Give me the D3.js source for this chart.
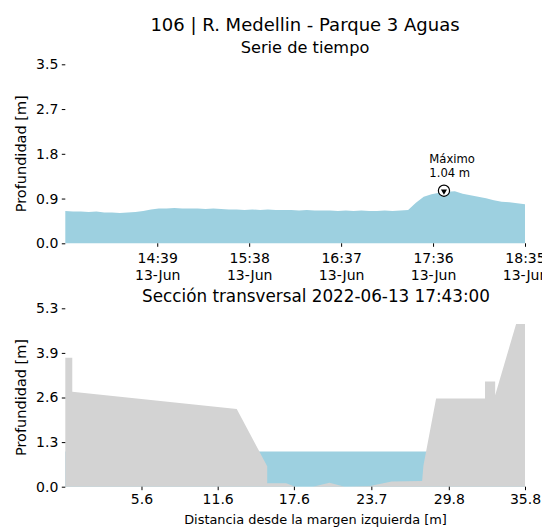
<!DOCTYPE html>
<html>
<head>
<meta charset="utf-8">
<script src="https://cdn.jsdelivr.net/npm/d3@7"></script>
<style>
  body { margin: 0; background: #fff; }
  svg { display: block; font-family: 'DejaVu Sans', sans-serif; }
</style>
</head>
<body>
<div id="chart"></div>
<script>
// serie de tiempo (profundidad cada 5 min)
const times = ['13:40', '13:45', '13:50', '13:55', '14:00', '14:05', '14:10', '14:15', '14:20', '14:25',
  '14:30', '14:35', '14:40', '14:45', '14:50', '14:55', '15:00', '15:05', '15:10', '15:15',
  '15:20', '15:25', '15:30', '15:35', '15:40', '15:45', '15:50', '15:55', '16:00', '16:05',
  '16:10', '16:15', '16:20', '16:25', '16:30', '16:35', '16:40', '16:45', '16:50', '16:55',
  '17:00', '17:05', '17:10', '17:15', '17:20', '17:25', '17:30', '17:35', '17:40', '17:43',
  '17:45', '17:50', '17:55', '18:00', '18:05', '18:10', '18:15', '18:20', '18:25', '18:30', '18:35']
const depth = [0.64, 0.63, 0.63, 0.62, 0.63, 0.61, 0.61, 0.60, 0.61, 0.62,
  0.64, 0.67, 0.69, 0.69, 0.70, 0.69, 0.69, 0.69, 0.68, 0.69,
  0.68, 0.67, 0.67, 0.66, 0.67, 0.66, 0.67, 0.66, 0.66, 0.66,
  0.65, 0.66, 0.65, 0.65, 0.65, 0.64, 0.65, 0.64, 0.65, 0.64,
  0.64, 0.65, 0.64, 0.65, 0.66, 0.80, 0.92, 0.97, 1.00, 1.04,
  1.02, 1.03, 0.98, 0.95, 0.92, 0.89, 0.85, 0.82, 0.81, 0.79, 0.77]
const maxTime = '17:43'
const maxDepth = 1.04
const topYTickLabels = ['0.0', '0.9', '1.8', '2.7', '3.5']
const topXTicks = ['14:39', '15:38', '16:37', '17:36', '18:35']

// seccion transversal
const sectionX = [-0.4, 0.15, 0.15, 13.1, 15.5, 15.5, 17.0, 17.7, 19.1, 20.4, 21.6, 23.6, 25.3, 27.7,
  27.8, 28.8, 32.65, 32.65, 33.45, 33.45, 35.1, 35.8]
const sectionZ = [3.8, 3.8, 2.8, 2.29, 0.6, 0.1, 0.1, 0.0, 0.0, 0.12, 0.0, 0.02, 0.15, 0.17,
  0.62, 2.6, 2.6, 3.1, 3.1, 2.7, 4.8, 4.8]
const waterLevel = 1.04
const bottomYTickLabels = ['0.0', '1.3', '2.6', '3.9', '5.3']
const bottomXTicks = [5.6, 11.6, 17.6, 23.7, 29.8, 35.8]

const width = 542
const height = 529
const blue = '#9dd0e0'
const grey = '#d3d3d3'

const svg = d3
  .select('#chart')
  .append('svg')
  .attr('width', width)
  .attr('height', height)

const parse = d3.timeParse('%Y-%m-%d %H:%M')
const toDate = t => parse('2022-06-13 ' + t)

const styleText = g =>
  g.selectAll('text').attr('font-size', 14).attr('fill', '#000').attr('font-family', 'DejaVu Sans')

// ---------- top chart ----------
const topBox = { left: 65.3, right: 525, y0: 243.3, y1: 64.3 }
const topYMax = 3.54

const xTime = d3
  .scaleTime()
  .domain([toDate(times[0]), toDate(times[times.length - 1])])
  .range([topBox.left, topBox.right])
const yTop = d3.scaleLinear().domain([0, topYMax]).range([topBox.y0, topBox.y1])

const series = times.map((t, i) => ({ date: toDate(t), value: depth[i] }))

const area = d3
  .area()
  .x(d => xTime(d.date))
  .y0(yTop(0))
  .y1(d => yTop(d.value))

svg.append('path').datum(series).attr('d', area).attr('fill', blue)

const yAxisTop = d3
  .axisLeft(yTop)
  .tickValues(topYTickLabels.map((l, i) => (i * topYMax) / 4))
  .tickFormat((d, i) => topYTickLabels[i])
  .tickSize(3.5)
  .tickPadding(3.5)

svg
  .append('g')
  .attr('transform', `translate(${topBox.left},0)`)
  .call(yAxisTop)
  .call(g => g.select('.domain').remove())
  .call(styleText)

const xAxisTop = d3
  .axisBottom(xTime)
  .tickValues(topXTicks.map(toDate))
  .tickFormat('')
  .tickSize(3.5)

const gxTop = svg
  .append('g')
  .attr('transform', `translate(0,${topBox.y0})`)
  .call(xAxisTop)
  .call(g => g.select('.domain').remove())

gxTop.selectAll('.tick text').remove()
gxTop
  .selectAll('.tick')
  .append('text')
  .attr('text-anchor', 'middle')
  .attr('font-size', 14)
  .attr('font-family', 'DejaVu Sans')
  .attr('fill', '#000')
  .each(function(d) {
    const t = d3.select(this)
    t.append('tspan').attr('x', 0).attr('y', 19.5).text(d3.timeFormat('%H:%M')(d))
    t.append('tspan').attr('x', 0).attr('y', 36.5).text(d3.timeFormat('%d-%b')(d))
  })

// maximo marker
const mx = xTime(toDate(maxTime))
const my = yTop(maxDepth)
svg
  .append('circle')
  .attr('cx', mx)
  .attr('cy', my)
  .attr('r', 5.6)
  .attr('fill', '#fff')
  .attr('stroke', '#000')
  .attr('stroke-width', 1.2)
svg
  .append('path')
  .attr('d', d3.symbol(d3.symbolTriangle, 16)())
  .attr('transform', `translate(${mx},${my + 0.6}) rotate(180)`)
  .attr('fill', '#000')

const ann = svg
  .append('text')
  .attr('font-size', 11.6)
  .attr('fill', '#000')
  .attr('font-family', 'DejaVu Sans')
ann.append('tspan').attr('x', mx - 14.6).attr('y', my - 27.3).text('Máximo')
ann.append('tspan').attr('x', mx - 14.6).attr('y', my - 14).text(maxDepth.toFixed(2) + ' m')

// titles
svg
  .append('text')
  .attr('x', 305)
  .attr('y', 30.5)
  .attr('text-anchor', 'middle')
  .attr('font-size', 18)
  .attr('fill', '#000')
  .text('106 | R. Medellin - Parque 3 Aguas')
svg
  .append('text')
  .attr('x', 305)
  .attr('y', 53)
  .attr('text-anchor', 'middle')
  .attr('font-size', 16.2)
  .attr('fill', '#000')
  .text('Serie de tiempo')

svg
  .append('text')
  .attr('transform', `translate(26,${(topBox.y0 + topBox.y1) / 2}) rotate(-90)`)
  .attr('text-anchor', 'middle')
  .attr('font-size', 14.5)
  .attr('fill', '#000')
  .text('Profundidad [m]')

// ---------- bottom chart ----------
const botBox = { left: 65.3, right: 525, y0: 486.7, y1: 308.3 }
const botYMax = 5.26

const xDist = d3.scaleLinear().domain([-0.4, 35.8]).range([botBox.left, botBox.right])
const yBot = d3.scaleLinear().domain([0, botYMax]).range([botBox.y0, botBox.y1])

const section = sectionX.map((x, i) => ({ x: x, z: sectionZ[i] }))

// water first, terrain drawn over it
svg
  .append('path')
  .datum(section)
  .attr(
    'd',
    d3
      .area()
      .x(d => xDist(d.x))
      .y0(yBot(0))
      .y1(yBot(waterLevel))
  )
  .attr('fill', blue)

svg
  .append('path')
  .datum(section)
  .attr(
    'd',
    d3
      .area()
      .x(d => xDist(d.x))
      .y0(yBot(0))
      .y1(d => yBot(d.z))
  )
  .attr('fill', grey)

const yAxisBot = d3
  .axisLeft(yBot)
  .tickValues(bottomYTickLabels.map((l, i) => (i * botYMax) / 4))
  .tickFormat((d, i) => bottomYTickLabels[i])
  .tickSize(3.5)
  .tickPadding(3.5)

svg
  .append('g')
  .attr('transform', `translate(${botBox.left},0)`)
  .call(yAxisBot)
  .call(g => g.select('.domain').remove())
  .call(styleText)

const xAxisBot = d3
  .axisBottom(xDist)
  .tickValues(bottomXTicks)
  .tickFormat(d3.format('.1f'))
  .tickSize(3.5)
  .tickPadding(3.5)

svg
  .append('g')
  .attr('transform', `translate(0,${botBox.y0})`)
  .call(xAxisBot)
  .call(g => g.select('.domain').remove())
  .call(styleText)

svg
  .append('text')
  .attr('x', 316)
  .attr('y', 301.5)
  .attr('text-anchor', 'middle')
  .attr('font-size', 16.8)
  .attr('fill', '#000')
  .text('Sección transversal 2022-06-13 17:43:00')

svg
  .append('text')
  .attr('x', 315.5)
  .attr('y', 523.5)
  .attr('text-anchor', 'middle')
  .attr('font-size', 12.9)
  .attr('fill', '#000')
  .text('Distancia desde la margen izquierda [m]')

svg
  .append('text')
  .attr('transform', `translate(26,${(botBox.y0 + botBox.y1) / 2}) rotate(-90)`)
  .attr('text-anchor', 'middle')
  .attr('font-size', 14.5)
  .attr('fill', '#000')
  .text('Profundidad [m]')
</script>
</body>
</html>
